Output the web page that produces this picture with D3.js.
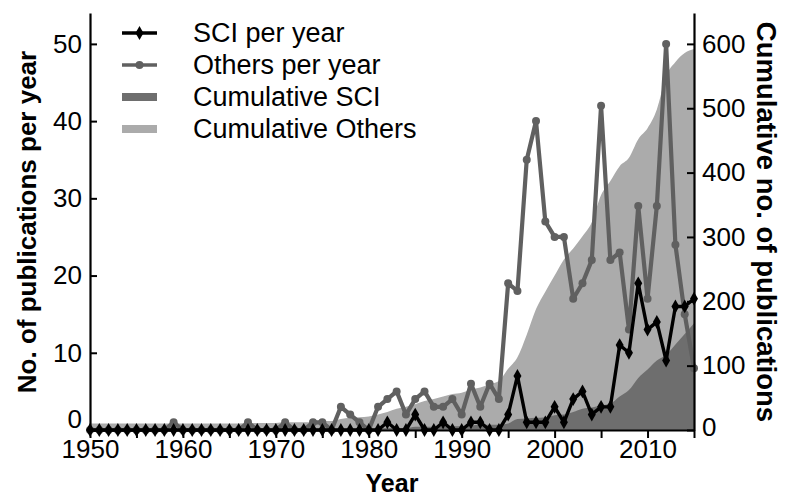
<!DOCTYPE html>
<html>
<head>
<meta charset="utf-8" />
<title>Publications per year</title>
<style type="text/css">
  html, body { margin: 0; background: #fff; }
  text { font-family: "Liberation Sans", Arial, sans-serif; }
</style>
<script src="https://cdn.jsdelivr.net/npm/d3@7"></script>
</head>
<body>
<div id="container"></div>
<script>
// years 1950..2015
var firstYear = 1950;
var lastYear = 2015;

var sciPerYear = [
  0, 0, 0, 0, 0, 0, 0, 0, 0, 0,   // 1950s
  0, 0, 0, 0, 0, 0, 0, 0, 0, 0,   // 1960s
  0, 0, 0, 0, 0, 0, 0, 0, 0, 0,   // 1970s
  0, 0, 1, 0, 0, 2, 0, 0, 1, 0,   // 1980s
  0, 1, 1, 0, 0, 2, 7, 1, 1, 1,   // 1990s
  3, 1, 4, 5, 2, 3, 3, 11, 10, 19, // 2000s
  13, 14, 9, 16, 16, 17           // 2010-2015
];

var othersPerYear = [
  0, 0, 0, 0, 0, 0, 0, 0, 0, 1,
  0, 0, 0, 0, 0, 0, 0, 1, 0, 0,
  0, 1, 0, 0, 1, 1, 0, 3, 2, 1,
  0, 3, 4, 5, 2, 4, 5, 3, 3, 4,
  2, 6, 3, 6, 4, 19, 18, 35, 40, 27,
  25, 25, 17, 19, 22, 42, 22, 23, 13, 29,
  17, 29, 50, 24, 15, 8
];

var cumSci = [
  2, 2, 2, 2, 2, 2, 2, 2, 2, 2,
  2, 2, 2, 2, 2, 2, 2, 2, 2, 2,
  2, 2, 2, 2, 2, 2, 2, 2, 2, 2,
  2, 2, 3, 3, 3, 5, 5, 5, 6, 6,
  6, 7, 8, 8, 8, 10, 17, 18, 19, 20,
  23, 24, 28, 33, 35, 38, 41, 52, 62, 81,
  94, 108, 117, 133, 149, 166
];

var cumOthers = [
  10, 10, 10, 10, 10, 10, 10, 10, 10, 10,
  10, 10, 10, 10, 10, 10, 10, 11, 11, 11,
  11, 12, 12, 12, 13, 14, 14, 17, 19, 20,
  21, 24, 28, 33, 36, 40, 45, 48, 52, 56,
  58, 63, 66, 71, 76, 95, 113, 148, 188, 215,
  240, 265, 282, 301, 323, 365, 387, 410, 423, 452,
  469, 498, 550, 572, 586, 592
];

var leftTicks = [0, 10, 20, 30, 40, 50];
var rightTicks = [0, 100, 200, 300, 400, 500, 600];
var yearTicks = [1950, 1960, 1970, 1980, 1990, 2000, 2010];

var legendLabels = ["SCI per year", "Others per year", "Cumulative SCI", "Cumulative Others"];

var W = 786, H = 499;
var m = { left: 90, right: 92, top: 13, bottom: 69 };

var colSci = "#000000",
    colOthers = "#606060",
    colCumSci = "#6e6e6e",
    colCumOthers = "#ababab";

var years = d3.range(firstYear, lastYear + 1);

var svg = d3.select("#container").append("svg")
    .attr("width", W).attr("height", H);

var x = d3.scaleLinear().domain([firstYear, lastYear]).range([m.left, W - m.right]);
var yL = d3.scaleLinear().domain([0, 54]).range([H - m.bottom, m.top]);
var yR = d3.scaleLinear().domain([0, 648]).range([H - m.bottom, m.top]);

var plot = svg.append("g");

// cumulative areas
var area = d3.area()
    .x(function(d, i) { return x(years[i]); })
    .y0(yR(0))
    .y1(function(d) { return yR(d); })
    .curve(d3.curveMonotoneX);
plot.append("path").datum(cumOthers)
    .attr("d", area).attr("fill", colCumOthers);

plot.append("path").datum(cumSci)
    .attr("d", area).attr("fill", colCumSci);

// per-year lines
var line = d3.line()
    .x(function(d, i) { return x(years[i]); })
    .y(function(d) { return yL(d); });

plot.append("path").datum(othersPerYear)
    .attr("d", line).attr("fill", "none")
    .attr("stroke", colOthers).attr("stroke-width", 4.2)
    .attr("stroke-linejoin", "round");
plot.selectAll(".odot").data(othersPerYear).enter().append("circle")
    .attr("cx", function(d, i) { return x(years[i]); })
    .attr("cy", function(d) { return yL(d); })
    .attr("r", 4).attr("fill", colOthers);

plot.append("path").datum(sciPerYear)
    .attr("d", line).attr("fill", "none")
    .attr("stroke", colSci).attr("stroke-width", 3.4)
    .attr("stroke-linejoin", "round");
var diamond = d3.symbol().type(d3.symbolDiamond).size(55);
plot.selectAll(".sdot").data(sciPerYear).enter().append("path")
    .attr("d", diamond)
    .attr("transform", function(d, i) { return "translate(" + x(years[i]) + "," + yL(d) + ")"; })
    .attr("fill", colSci);

// axes
var xAxis = svg.append("g")
    .attr("transform", "translate(0," + (H - m.bottom) + ")")
    .call(d3.axisBottom(x).tickValues(d3.range(1950, 2016, 5))
      .tickFormat(function(d) { return yearTicks.indexOf(d) >= 0 ? d : ""; })
      .tickSize(8).tickPadding(2).tickSizeOuter(0));

var leftAxis = svg.append("g")
    .attr("transform", "translate(" + m.left + ",0)")
    .call(d3.axisLeft(yL).tickValues(leftTicks).tickSize(-7).tickPadding(8).tickSizeOuter(0));

var rightAxis = svg.append("g")
    .attr("transform", "translate(" + (W - m.right) + ",0)")
    .call(d3.axisRight(yR).tickValues(rightTicks).tickSize(-7).tickPadding(8).tickSizeOuter(0));

[xAxis, leftAxis, rightAxis].forEach(function(a) {
  a.select(".domain").attr("stroke", "#000").attr("stroke-width", 2.2);
  a.selectAll(".tick line").attr("stroke", "#000").attr("stroke-width", 2);
  a.selectAll(".tick text").attr("fill", "#000")
    .style("font-family", "'Liberation Sans', Arial, sans-serif")
    .style("font-size", "26px");
});
xAxis.selectAll(".tick text").attr("dy", "0.7em");
// the "0" labels sit low, against the x axis
leftAxis.selectAll(".tick text").filter(function(d) { return d == 0; }).attr("dy", "-0.1em");
rightAxis.selectAll(".tick text").filter(function(d) { return d == 0; }).attr("dy", "0.2em");

// titles
svg.append("text")
    .attr("x", (m.left + W - m.right) / 2).attr("y", 492)
    .attr("text-anchor", "middle")
    .style("font-size", "25px").style("font-weight", "bold")
    .text("Year");

svg.append("text")
    .attr("transform", "translate(36,222) rotate(-90)")
    .attr("text-anchor", "middle")
    .style("font-size", "26px").style("font-weight", "bold")
    .text("No. of publications per year");

svg.append("text")
    .attr("transform", "translate(757,222) rotate(90)")
    .attr("text-anchor", "middle")
    .style("font-size", "27.5px").style("font-weight", "bold")
    .text("Cumulative no. of publications");

// legend
var legend = svg.append("g");
var rowY = [33, 65, 97, 129];
legendLabels.forEach(function(lab, i) {
  var g = legend.append("g").attr("transform", "translate(0," + rowY[i] + ")");
  if (i == 0) {
    g.append("line").attr("x1", 122).attr("x2", 157).attr("stroke", colSci).attr("stroke-width", 3.4);
    g.append("path").attr("d", diamond).attr("transform", "translate(139.5,0)").attr("fill", colSci);
  } else if (i == 1) {
    g.append("line").attr("x1", 122).attr("x2", 157).attr("stroke", colOthers).attr("stroke-width", 3.6);
    g.append("circle").attr("cx", 139.5).attr("r", 4).attr("fill", colOthers);
  } else {
    g.append("rect").attr("x", 122).attr("y", -4).attr("width", 35).attr("height", 8)
      .attr("fill", i == 2 ? colCumSci : colCumOthers);
  }
  g.append("text").attr("x", 193).attr("dy", "0.35em")
    .style("font-size", "27px").text(lab);
});
</script>
</body>
</html>
